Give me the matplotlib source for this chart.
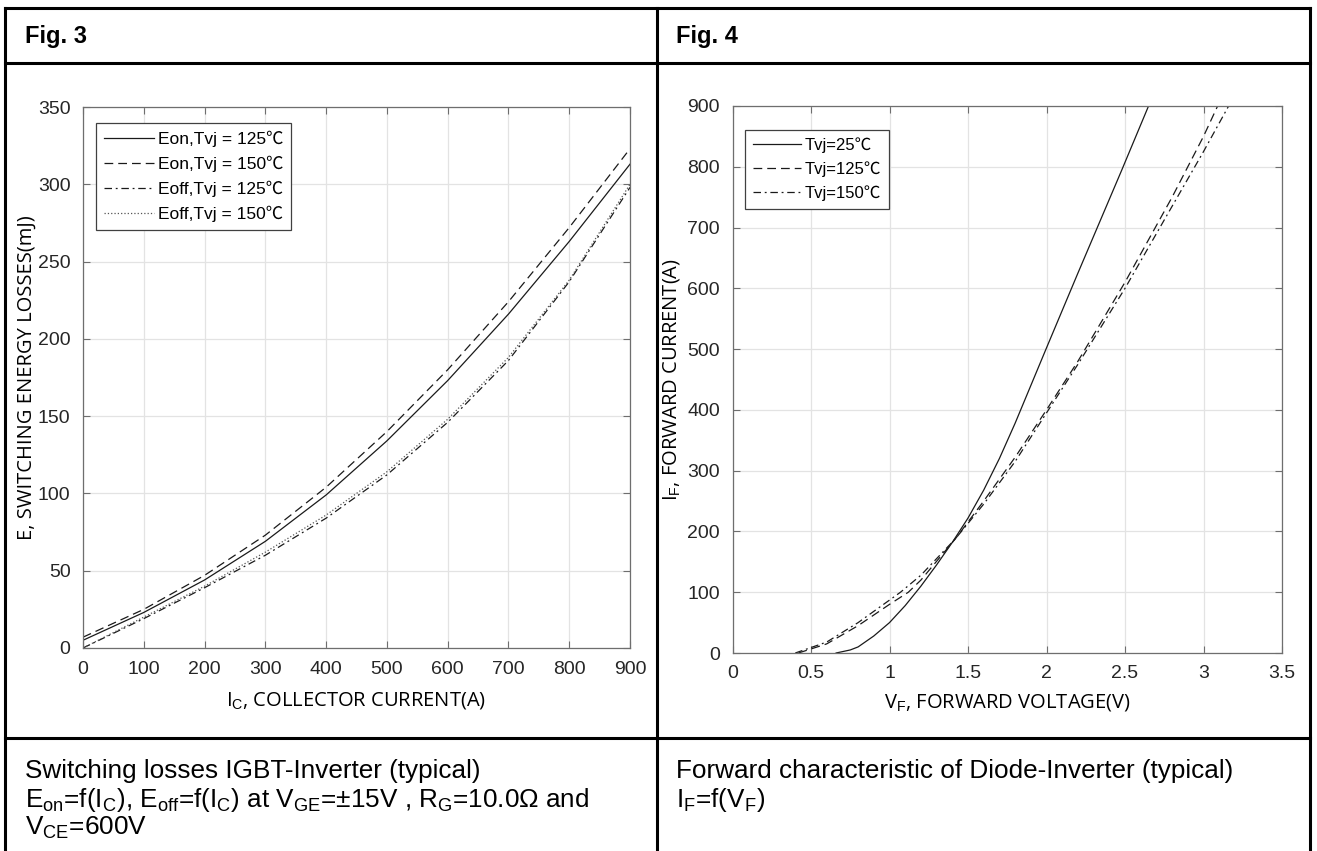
import numpy as np
import matplotlib
matplotlib.use("Agg")
import matplotlib.pyplot as plt
from matplotlib.lines import Line2D

plt.rcParams['mathtext.fontset'] = 'custom'
plt.rcParams['mathtext.rm'] = 'Liberation Sans'
plt.rcParams['mathtext.it'] = 'Liberation Sans'

# ---- Fig. 3 data: switching energy vs collector current ----
ic = [0, 100, 200, 300, 400, 500, 600, 700, 800, 900]
eon_125 = [5, 23, 44, 69, 99, 134, 173, 216, 263, 313]
eon_150 = [7, 25, 47, 73, 104, 140, 180, 224, 272, 323]
eoff_125 = [0, 19, 39, 60, 84, 112, 146, 186, 237, 298]
eoff_150 = [0, 20, 40, 62, 86, 114, 148, 188, 238, 300]
labels3 = ['Eon,Tvj = 125\u2103', 'Eon,Tvj = 150\u2103',
           'Eoff,Tvj = 125\u2103', 'Eoff,Tvj = 150\u2103']

# ---- Fig. 4 data: diode forward characteristic ----
vf_25 = [0.66, 0.75, 0.8, 0.9, 1.0, 1.1, 1.2, 1.3, 1.4, 1.5, 1.6, 1.7, 1.8, 1.9,
         2.0, 2.2, 2.48, 2.65]
if_25 = [0, 5, 10, 28, 50, 78, 110, 145, 182, 222, 268, 320, 378, 440,
         502, 625, 795, 900]
vf_125 = [0.42, 0.6, 0.8, 1.0, 1.12, 1.2, 1.42, 1.6, 1.8, 2.0, 2.2, 2.5, 2.8, 3.0, 3.09]
if_125 = [0, 15, 45, 80, 100, 120, 188, 250, 322, 400, 480, 610, 750, 850, 900]
vf_150 = [0.4, 0.6, 0.8, 1.07, 1.2, 1.42, 1.6, 1.8, 2.0, 2.2, 2.5, 2.8, 3.0, 3.16]
if_150 = [0, 18, 50, 100, 128, 188, 245, 315, 395, 475, 600, 735, 825, 900]
labels4 = ['Tvj=25\u2103', 'Tvj=125\u2103', 'Tvj=150\u2103']

W, H = 1317, 851
fig = plt.figure(figsize=(W / 100, H / 100), dpi=100)

def fx(px):
    return px / W

def fy(py):
    return 1 - py / H

# table frame
lw_tab = 2.2
for yy in [8, 63, 738]:
    fig.add_artist(Line2D([fx(5), fx(1310)], [fy(yy), fy(yy)], color='black', lw=lw_tab))
for xx in [5, 657, 1310]:
    fig.add_artist(Line2D([fx(xx), fx(xx)], [fy(8), fy(851)], color='black', lw=lw_tab))

fig.text(fx(25), fy(36), 'Fig. 3', fontsize=17, fontweight='bold',
         family='Liberation Sans', va='center')
fig.text(fx(676), fy(36), 'Fig. 4', fontsize=17, fontweight='bold',
         family='Liberation Sans', va='center')

cap = dict(fontsize=18.8, family='Liberation Sans', va='center')
fig.text(fx(25), fy(771), 'Switching losses IGBT-Inverter (typical)', **cap)
fig.text(fx(25), fy(800), r'E$_{\mathrm{on}}$=f(I$_{\mathrm{C}}$), E$_{\mathrm{off}}$=f(I$_{\mathrm{C}}$) at '
         r'V$_{\mathrm{GE}}$=' + '\u00b1' + r'15V , R$_{\mathrm{G}}$=10.0' + '\u03a9' + ' and', **cap)
fig.text(fx(25), fy(828), r'V$_{\mathrm{CE}}$=600V', **cap)
fig.text(fx(676), fy(771), 'Forward characteristic of Diode-Inverter (typical)', **cap)
fig.text(fx(676), fy(800), r'I$_{\mathrm{F}}$=f(V$_{\mathrm{F}}$)', **cap)

tick_font = ['Liberation Sans Narrow', 'Liberation Sans']
leg_font = ['Liberation Sans', 'Noto Sans CJK SC', 'DejaVu Sans']
lab_font = ['Open Sans', 'DejaVu Sans']

def style(ax):
    ax.grid(True, color='#e3e3e3', lw=0.9)
    ax.set_axisbelow(True)
    for s in ax.spines.values():
        s.set_color('#6e6e6e')
        s.set_linewidth(0.9)
    ax.tick_params(direction='in', top=True, right=True, length=5,
                   color='#6e6e6e', labelsize=14, labelcolor='#262626', pad=9)
    for t in ax.get_xticklabels() + ax.get_yticklabels():
        t.set_family(tick_font)

lc = '#1a1a1a'

# ---- Fig. 3 axes ----
ax1 = fig.add_axes([fx(83), fy(648), fx(630) - fx(83), fy(107) - fy(648)])
ax1.plot(ic, eon_125, '-', color=lc, lw=0.9, label=labels3[0])
ax1.plot(ic, eon_150, '--', color=lc, lw=0.9, dashes=(7, 4), label=labels3[1])
ax1.plot(ic, eoff_125, '-.', color=lc, lw=0.9, dashes=(6, 3, 1.5, 3), label=labels3[2])
ax1.plot(ic, eoff_150, ':', color='#555555', lw=0.9, label=labels3[3])
ax1.set_xlim(0, 900)
ax1.set_ylim(0, 350)
ax1.set_xticks(range(0, 901, 100))
ax1.set_yticks(range(0, 351, 50))
style(ax1)
ax1.set_xlabel(r'I$_{\mathrm{C}}$, COLLECTOR CURRENT(A)', fontsize=14.5,
               family=lab_font, labelpad=9)
ax1.set_ylabel('E, SWITCHING ENERGY LOSSES(mJ)', fontsize=14.5,
               family=lab_font, labelpad=1)
leg1 = ax1.legend(loc='upper left', bbox_to_anchor=(13 / 547, 1 - 16 / 541),
                  borderaxespad=0, fancybox=False, framealpha=1,
                  edgecolor='#404040', handlelength=2.9, handletextpad=0.2,
                  borderpad=0.45, labelspacing=0.5,
                  prop={'family': leg_font, 'size': 12.5})
leg1.get_frame().set_linewidth(0.9)

# ---- Fig. 4 axes ----
ax2 = fig.add_axes([fx(732.5), fy(653), fx(1282) - fx(732.5), fy(106) - fy(653)])
ax2.plot(vf_25, if_25, '-', color=lc, lw=0.9, label=labels4[0])
ax2.plot(vf_125, if_125, '--', color=lc, lw=0.9, dashes=(7, 4), label=labels4[1])
ax2.plot(vf_150, if_150, '-.', color=lc, lw=0.9, dashes=(6, 3, 1.5, 3), label=labels4[2])
ax2.set_xlim(0, 3.5)
ax2.set_ylim(0, 900)
ax2.set_xticks([0, 0.5, 1, 1.5, 2, 2.5, 3, 3.5])
ax2.set_xticklabels(['0', '0.5', '1', '1.5', '2', '2.5', '3', '3.5'])
ax2.set_yticks(range(0, 901, 100))
style(ax2)
ax2.set_xlabel(r'V$_{\mathrm{F}}$, FORWARD VOLTAGE(V)', fontsize=14.5,
               family=lab_font, labelpad=7)
ax2.set_ylabel(r'I$_{\mathrm{F}}$, FORWARD CURRENT(A)', fontsize=14.5,
               family=lab_font, labelpad=4)
leg2 = ax2.legend(loc='upper left', bbox_to_anchor=(13 / 550, 1 - 24 / 547),
                  borderaxespad=0, fancybox=False, framealpha=1,
                  edgecolor='#404040', handlelength=2.9, handletextpad=0.2,
                  borderpad=0.45, labelspacing=0.5,
                  prop={'family': leg_font, 'size': 12})
leg2.get_frame().set_linewidth(0.9)

fig.savefig('out.png', dpi=100)
